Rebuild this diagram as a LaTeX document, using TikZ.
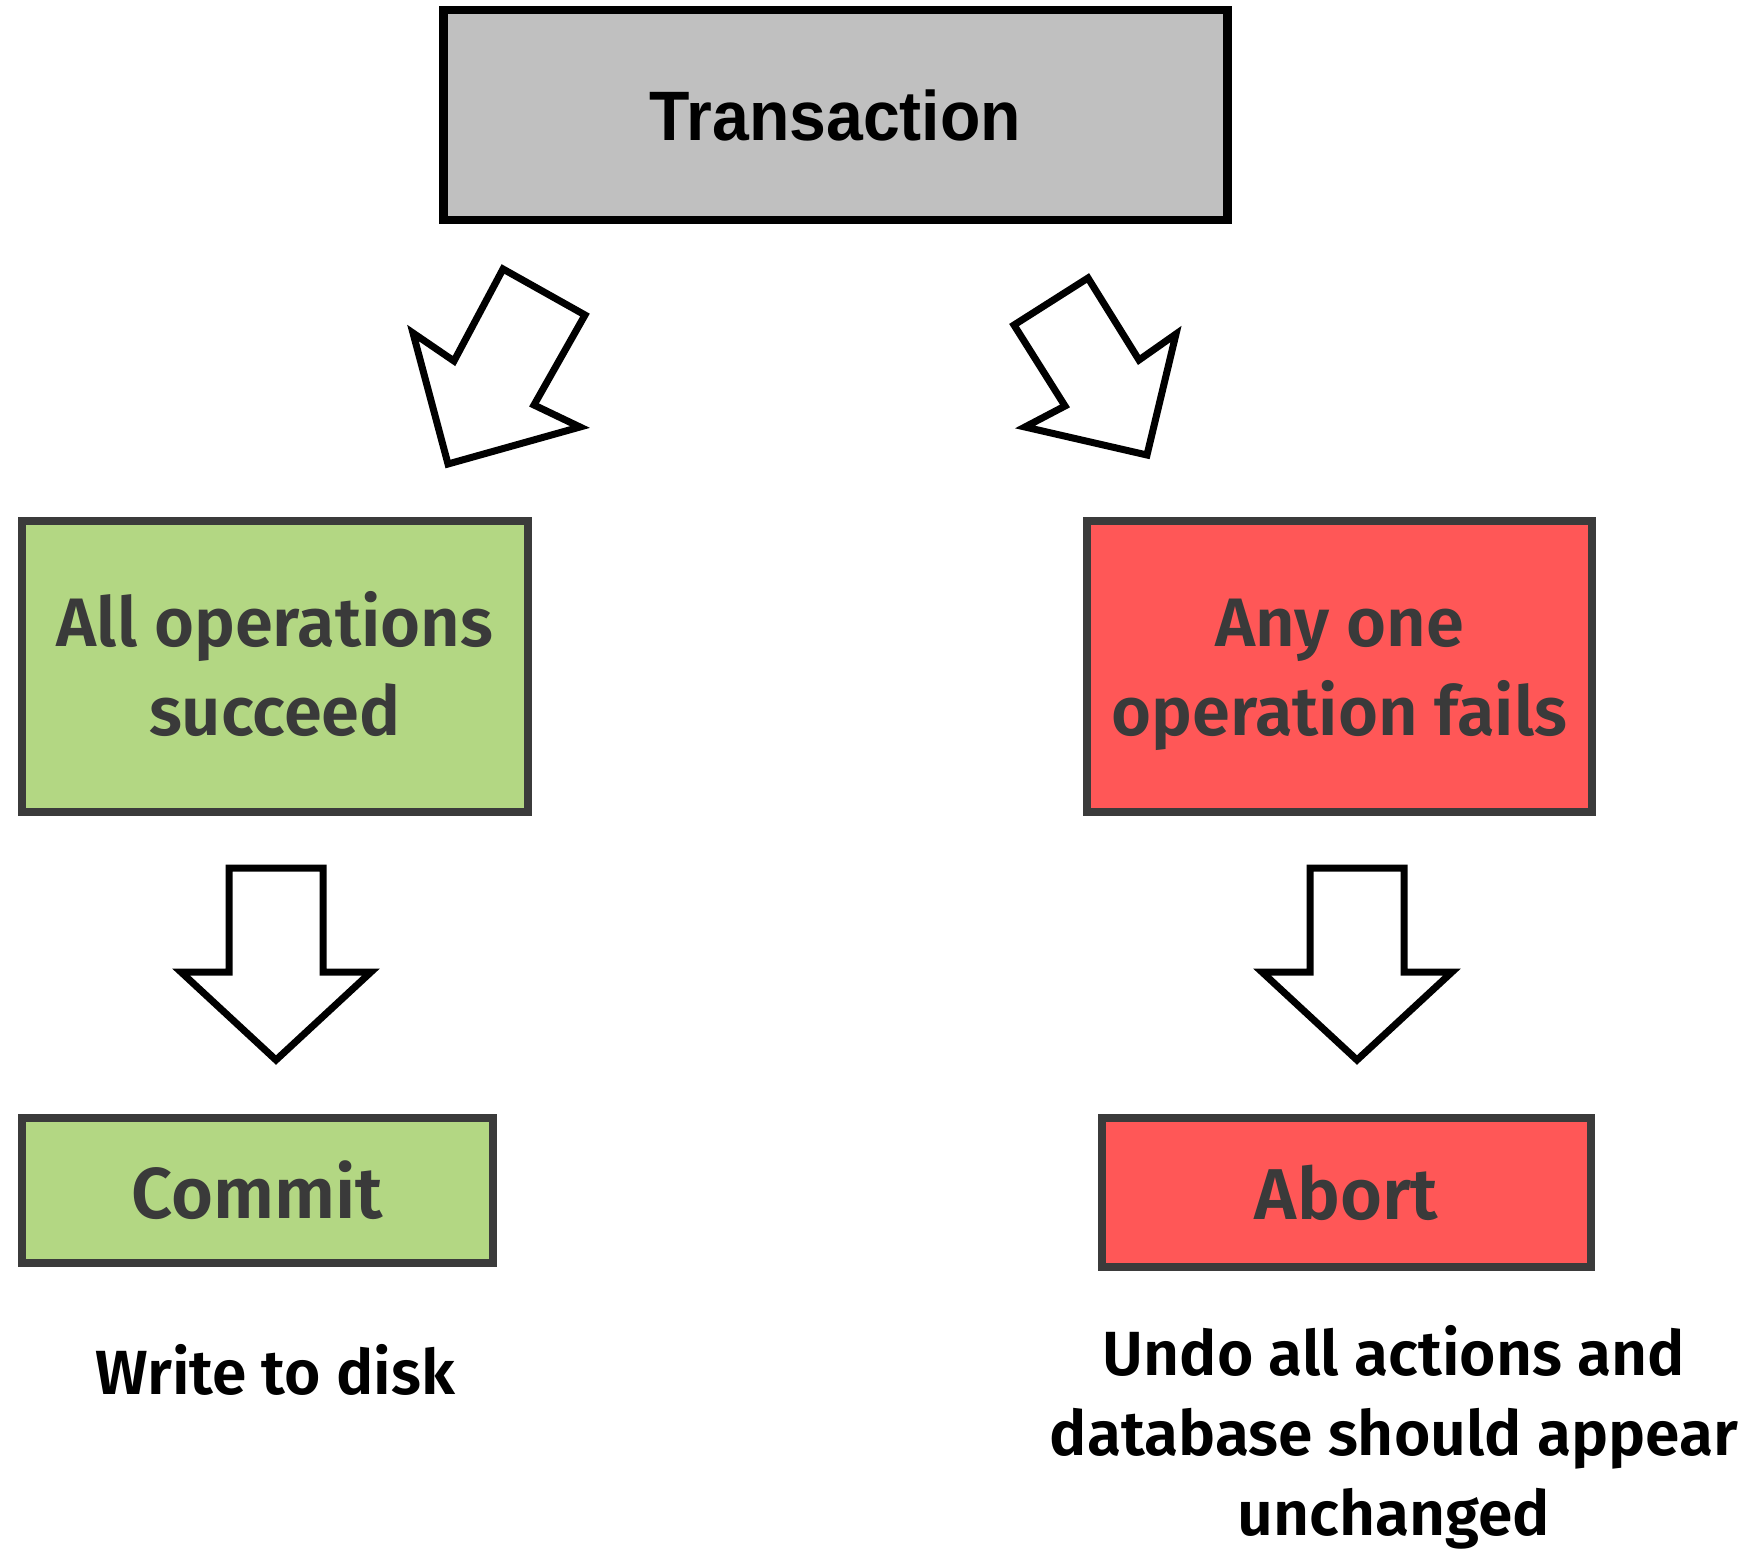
\documentclass[tikz,border=0pt]{standalone}
\usepackage{fontspec}
\setmainfont{Fira Sans}[BoldFont={Fira Sans SemiBold}]
\newfontfamily\condfont[FakeStretch=0.945]{Liberation Sans}
\definecolor{boxgray}{HTML}{C0C0C0}
\definecolor{okgreen}{HTML}{B3D783}
\definecolor{failred}{HTML}{FF5757}
\definecolor{edgegray}{HTML}{3B3B3B}
\definecolor{inkgray}{HTML}{3A3A3A}
% tall strut for the first line of two-line labels
\newcommand{\topstrut}{\rule{0pt}{38.2pt}}
\tikzset{
  box/.style={draw=edgegray, line width=4.15pt, inner sep=0pt, align=center,
    text=inkgray, font=\fontsize{34.3}{44.5}\selectfont\bfseries},
  blockarrow/.style={draw=black, line width=3.5pt, fill=white, line join=miter},
  note/.style={align=center, text=black, font=\fontsize{31.2}{40}\selectfont\bfseries}
}
\begin{document}
\begin{tikzpicture}[x=0.5pt, y=-0.5pt]
\useasboundingbox[fill=white] (0,0) rectangle (1753,1549);

% top box
\node[box, draw=black, fill=boxgray, text=black, minimum width=392pt, minimum height=105pt,
  font=\condfont\fontsize{35}{40}\selectfont\bfseries] (txn) at (835.5,115) {Transaction};

% outcome boxes
\node[box, fill=okgreen, minimum width=253pt, minimum height=145.5pt] (succ) at (275,666.5)
  {\topstrut All operations\\succeed\strut};
\node[box, fill=failred, minimum width=252.5pt, minimum height=145.5pt] (fail) at (1339.5,666.5)
  {\topstrut Any one\\operation fails\strut};

% result boxes
\node[box, fill=okgreen, minimum width=235.5pt, minimum height=72.5pt,
  font=\fontsize{36}{40}\selectfont\bfseries] (commit) at (257.5,1190.5) {Commit};
\node[box, fill=failred, minimum width=244.5pt, minimum height=74.5pt,
  font=\fontsize{36}{40}\selectfont\bfseries] (abort) at (1346.5,1192.5) {Abort};

% notes
\node[note] (disk) at (275,1370) {Write to disk};
\node[note] (undo) at (1394,1437) {Undo all actions and\\database should appear\\unchanged};

% block arrows
\draw[blockarrow] (503,269) -- (585,315) -- (534,405) -- (580,427) -- (448,464)
  -- (413,333) -- (454,361) -- cycle;
\draw[blockarrow] (1088,278) -- (1014,325) -- (1065,406) -- (1025,427) -- (1147,455)
  -- (1176,334) -- (1139,360) -- cycle;
\draw[blockarrow] (229,868) -- (323,868) -- (323,972) -- (371,972) -- (276,1060)
  -- (181,972) -- (229,972) -- cycle;
\draw[blockarrow] (1310,868) -- (1404,868) -- (1404,972) -- (1452,972) -- (1357,1060)
  -- (1262,972) -- (1310,972) -- cycle;
\end{tikzpicture}
\end{document}
